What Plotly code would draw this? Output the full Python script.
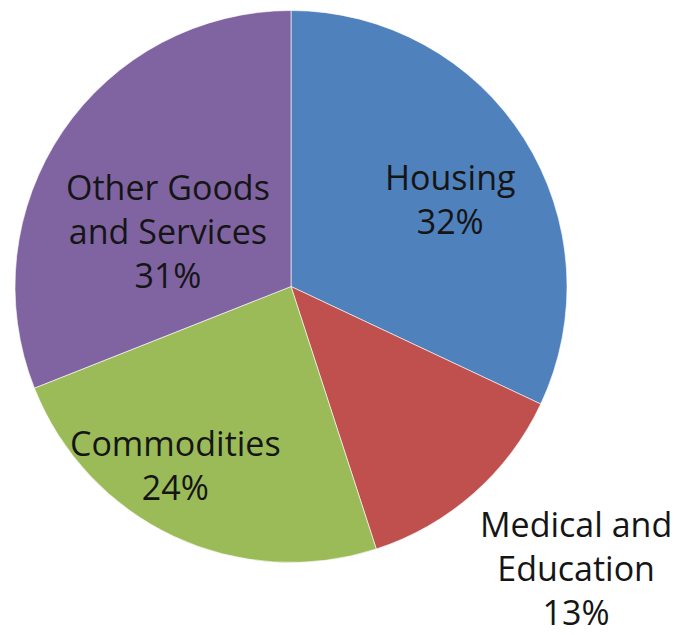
import plotly.graph_objects as go

# Share of spending by category
categories = ["Housing", "Medical and Education", "Commodities", "Other Goods and Services"]
shares = [32, 13, 24, 31]
label_lines = [["Housing"], ["Medical and", "Education"], ["Commodities"], ["Other Goods", "and Services"]]
colors = ["#4F81BD", "#C0504D", "#9BBB59", "#8064A2"]

W, H = 681, 635
# pie box in pixels
left, right, top, bottom = 15, 567, 10, 563

fig = go.Figure(
    go.Pie(
        labels=categories,
        values=shares,
        sort=False,
        direction="clockwise",
        rotation=0,
        marker=dict(colors=colors, line=dict(color="rgba(255,255,255,0.6)", width=1)),
        textinfo="none",
        hoverinfo="label+percent",
        showlegend=False,
        domain=dict(x=[left / W, right / W], y=[1 - bottom / H, 1 - top / H]),
    )
)

# label anchor points (pixels)
label_pos = [(450, 199), (576, 568), (175, 465), (168, 231)]

total = sum(shares)
for lines, v, (px, py) in zip(label_lines, shares, label_pos):
    pct = round(100 * v / total)
    text = "<br>".join(lines + [f"{pct}%"])
    fig.add_annotation(
        x=px / W, y=1 - py / H, xref="paper", yref="paper",
        text=text, showarrow=False, xanchor="center", yanchor="middle",
        font=dict(family="Open Sans", size=34, color="#151515"),
        align="center",
    )

fig.update_layout(
    width=W, height=H,
    margin=dict(l=0, r=0, t=0, b=0),
    paper_bgcolor="white",
    plot_bgcolor="white",
)

fig.write_html("out.html")
